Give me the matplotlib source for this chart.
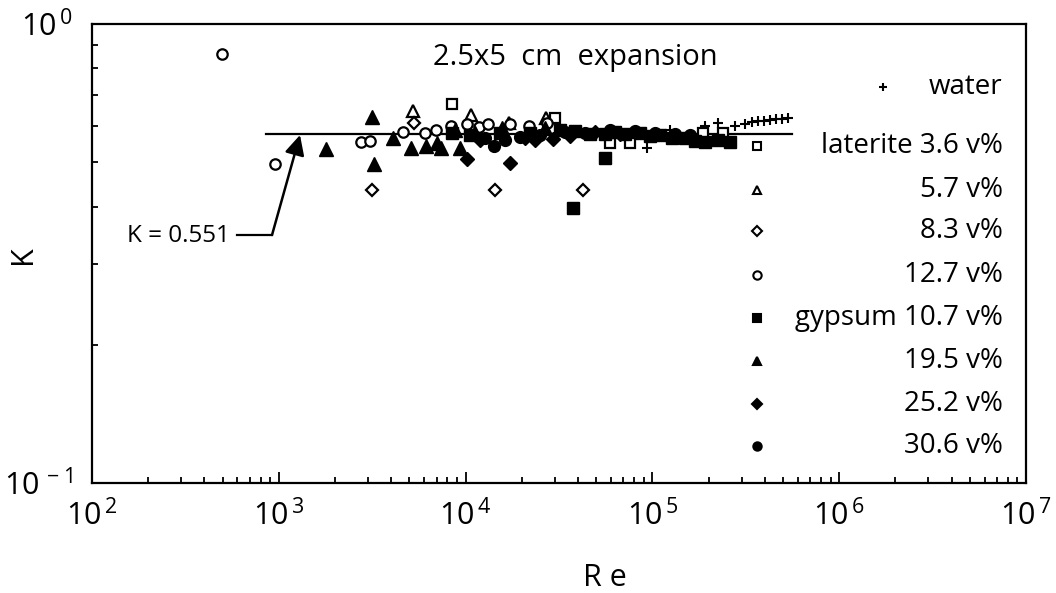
import math
import matplotlib
matplotlib.use('Agg')
import matplotlib.pyplot as plt
from matplotlib.ticker import LogLocator, NullFormatter, FuncFormatter

plt.rcParams['font.family'] = ['Open Sans', 'DejaVu Sans']
plt.rcParams['mathtext.fontset'] = 'custom'
plt.rcParams['mathtext.rm'] = 'Open Sans'
plt.rcParams['axes.unicode_minus'] = False

# data (Re, K)
water_re = [93500, 124200, 191300, 224500, 276700, 313200, 341600, 367600, 395700, 426300, 458900, 494100, 532000]
water_k = [0.537, 0.588, 0.599, 0.608, 0.599, 0.605, 0.611, 0.614, 0.614, 0.618, 0.621, 0.621, 0.624]

lat36_re = [8457, 30120, 59300, 75900, 186700, 238800]
lat36_k = [0.669, 0.624, 0.551, 0.551, 0.579, 0.579]

lat57_re = [5227, 10690, 17100, 27000]
lat57_k = [0.646, 0.633, 0.610, 0.624]

lat83_re = [3155, 5291, 14360, 42500]
lat83_k = [0.435, 0.608, 0.435, 0.435]

lat127_re = [497, 955, 2754, 3078, 4623, 6063, 6947, 8356, 10170, 11800, 13180, 17290, 21830, 27290]
lat127_k = [0.860, 0.495, 0.553, 0.556, 0.582, 0.579, 0.588, 0.599, 0.605, 0.596, 0.605, 0.605, 0.599, 0.608]

gyp107_re = [8457, 10560, 15280, 22130, 31990, 37600, 38550, 46340, 55700, 55700, 63100, 71330, 85860,
             97100, 109800, 127400, 149600, 169200, 191300, 224500, 260300]
gyp107_k = [0.579, 0.573, 0.579, 0.579, 0.588, 0.397, 0.585, 0.576, 0.576, 0.511, 0.582, 0.576, 0.579,
            0.570, 0.573, 0.564, 0.564, 0.556, 0.553, 0.559, 0.553]

gyp195_re = [1790, 3155, 3233, 4087, 5103, 6137, 7028, 7381, 9334, 8770, 11220, 15670, 26600]
gyp195_k = [0.534, 0.627, 0.495, 0.564, 0.537, 0.542, 0.551, 0.537, 0.537, 0.588, 0.579, 0.593, 0.593]

gyp252_re = [10170, 17290, 11940, 20800, 23530, 29380, 36220, 49320, 67100]
gyp252_k = [0.508, 0.498, 0.559, 0.564, 0.559, 0.562, 0.570, 0.582, 0.576]

gyp306_re = [12700, 14190, 16260, 19550, 25000, 34040, 43560, 59300, 80720, 103300, 132200, 158900]
gyp306_k = [0.564, 0.542, 0.559, 0.567, 0.573, 0.582, 0.579, 0.588, 0.585, 0.579, 0.576, 0.573]

fit_k = 0.576
fit_re = [852, 560000]

fig = plt.figure(figsize=(10.56, 5.93), dpi=100)
ax = fig.add_axes([0.0871, 0.1855, 0.8845, 0.774])
ax.set_xscale('log')
ax.set_yscale('log')
ax.set_xlim(1e2, 1e7)
ax.set_ylim(0.1, 1.0)

ax.plot(fit_re, [fit_k, fit_k], color='black', lw=1.6, zorder=2)

op = dict(linestyle='none', color='black', mfc='white', mec='black', mew=1.6, zorder=3)
fp = dict(linestyle='none', color='black', mec='black', zorder=3)
ax.plot(water_re, water_k, marker='+', ms=7, mew=1.5, **fp)
ax.plot(lat36_re, lat36_k, marker='s', ms=7.5, **op)
ax.plot(lat57_re, lat57_k, marker='^', ms=8, **op)
ax.plot(lat83_re, lat83_k, marker='D', ms=6.2, **op)
ax.plot(lat127_re, lat127_k, marker='o', ms=7.5, **op)
ax.plot(gyp107_re, gyp107_k, marker='s', ms=8.5, **fp)
ax.plot(gyp195_re, gyp195_k, marker='^', ms=10, **fp)
ax.plot(gyp252_re, gyp252_k, marker='D', ms=7.5, **fp)
ax.plot(gyp306_re, gyp306_k, marker='o', ms=8.5, **fp)

# K = 0.551 annotation
ax.plot([597, 920], [0.347, 0.347], color='black', lw=1.6)
ax.annotate('', xy=(1299, 0.573), xytext=(920, 0.347),
            arrowprops=dict(arrowstyle='-|>', color='black', lw=1.8, mutation_scale=30,
                            shrinkA=0, shrinkB=0))
ax.text(545, 0.345, 'K = 0.551', ha='right', va='center', fontsize=17.5)

ax.text(0.517, 0.926, '2.5x5  cm  expansion', transform=ax.transAxes,
        ha='center', va='center', fontsize=21)

# legend drawn as text rows
labels = ['water', 'laterite 3.6 v%', '5.7 v%', '8.3 v%', '12.7 v%',
          'gypsum 10.7 v%', '19.5 v%', '25.2 v%', '30.6 v%']
rows_y = [0.863, 0.734, 0.638, 0.549, 0.453, 0.359, 0.266, 0.172, 0.081]
marks = ['+', 's', '^', 'D', 'o', 's', '^', 'D', 'o']
filled = [True, False, False, False, False, True, True, True, True]
for i, lab in enumerate(labels):
    mx = 0.847 if i == 0 else 0.712
    ax.plot([mx], [rows_y[i]], marker=marks[i], transform=ax.transAxes, clip_on=False,
            ms=6 if marks[i] != 'D' else 5, color='black',
            mfc='black' if filled[i] else 'white', mec='black', mew=1.5, linestyle='none')
    ax.text(0.975, rows_y[i], lab, transform=ax.transAxes, ha='right', va='center', fontsize=20)

# axes styling
for s in ax.spines.values():
    s.set_linewidth(1.6)
ax.xaxis.set_major_locator(LogLocator(base=10, numticks=10))
ax.xaxis.set_minor_locator(LogLocator(base=10, subs=range(2, 10), numticks=20))
ax.yaxis.set_major_locator(LogLocator(base=10, numticks=10))
ax.yaxis.set_minor_locator(LogLocator(base=10, subs=range(2, 10), numticks=20))
ax.xaxis.set_minor_formatter(NullFormatter())
ax.yaxis.set_minor_formatter(NullFormatter())
fmt = FuncFormatter(lambda v, p: '10$^{\\,%d}$' % round(math.log10(v)))
ax.xaxis.set_major_formatter(fmt)
ax.yaxis.set_major_formatter(fmt)
ax.tick_params(which='both', direction='in', top=False, right=False, labelsize=22, width=1.3)
ax.tick_params(which='major', length=8)
ax.tick_params(which='minor', length=4)
ax.tick_params(axis='x', pad=12)
ax.tick_params(axis='y', pad=14)

fig.text(0.573, 0.025, 'R e', fontsize=22, ha='center', va='center')
fig.text(0.022, 0.57, 'K', fontsize=22, ha='center', va='center', rotation=90)

fig.savefig('out.png', dpi=100)
